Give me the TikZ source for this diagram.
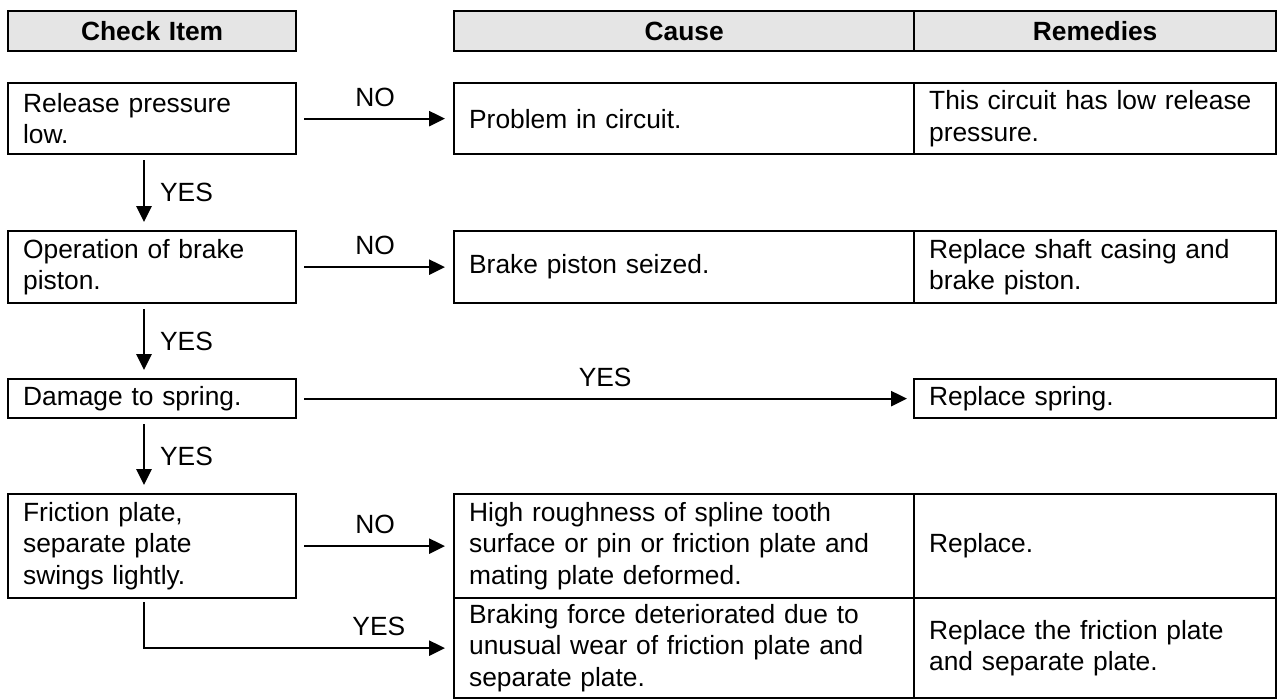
\documentclass[tikz,border=0pt]{standalone}
\usepackage{fontspec}
\setmainfont{Liberation Sans}
\usetikzlibrary{arrows.meta,positioning}
\tikzset{
  fej/.style={draw,fill=gray!20,line width=1.3pt,inner xsep=0.3cm,inner ysep=0pt,
    minimum height=0.8cm,align=center,anchor=north west,font=\fontsize{15}{18}\selectfont\bfseries},
  doboz/.style={draw,line width=1.3pt,inner xsep=0.3cm,inner ysep=2pt,align=left,anchor=north west},
  elso/.style={text width=5.16cm},
  ok/.style={text width=8.60cm},
  megold/.style={text width=6.64cm},
  nyil/.style={line width=1.3pt,-{Triangle[length=9pt,width=8.5pt]},shorten <=0.14cm,shorten >=0.16cm},
  felirat/.style={inner sep=0pt},
}

\begin{document}
\begin{tikzpicture}[font=\fontsize{15}{18}\selectfont]
  \useasboundingbox (0,0) rectangle (25.56,-13.96);
  % column heads
  \node[fej,elso] (hA) at (0.14,-0.2) {Check Item};
  \node[fej,ok] (hB) at (9.06,-0.2) {Cause};
  \node[fej,megold] (hC) at (18.26,-0.2) {Remedies};
  \coordinate (gerinc) at (2.88,0);
  % checks, causes and remedies
  \node[doboz,elso,minimum height=1.42cm] (r1) at (0.14,-1.64) {Release pressure\\ low.};
  \node[doboz,ok,minimum height=1.42cm] (c1) at (9.06,-1.64) {Problem in circuit.};
  \node[doboz,megold,minimum height=1.42cm] (m1) at (18.26,-1.64) {This circuit has low release\\ pressure.};
  \node[doboz,elso,minimum height=1.44cm] (r2) at (0.14,-4.6) {Operation of brake\\ piston.};
  \node[doboz,ok,minimum height=1.44cm] (c2) at (9.06,-4.6) {Brake piston seized.};
  \node[doboz,megold,minimum height=1.44cm] (m2) at (18.26,-4.6) {Replace shaft casing and\\ brake piston.};
  \node[doboz,elso,minimum height=0.78cm] (r3) at (0.14,-7.56) {Damage to spring.};
  \node[doboz,megold,minimum height=0.78cm] (m3) at (18.26,-7.56) {Replace spring.};
  \node[doboz,elso,minimum height=2.08cm] (r4) at (0.14,-9.86) {Friction plate,\\ separate plate\\ swings lightly.};
  \node[doboz,ok,minimum height=2.08cm] (c4) at (9.06,-9.86) {High roughness of spline tooth\\ surface or pin or friction plate and\\ mating plate deformed.};
  \node[doboz,megold,minimum height=2.08cm] (m4) at (18.26,-9.86) {Replace.};
  \node[doboz,ok,minimum height=2.0cm] (c5) at (9.06,-11.94) {Braking force deteriorated due to\\ unusual wear of friction plate and\\ separate plate.};
  \node[doboz,megold,minimum height=2.0cm] (m5) at (18.26,-11.94) {Replace the friction plate\\ and separate plate.};
  % NO branches
  \draw[nyil] (r1.east) -- node[felirat,above=0.22cm] {NO} (c1.west);
  \draw[nyil] (r2.east) -- node[felirat,above=0.22cm] {NO} (c2.west);
  \draw[nyil,shorten >=0.12cm] (r3.east) -- node[felirat,above=0.22cm] {YES} (m3.west);
  \draw[nyil] (r4.east) -- node[felirat,above=0.22cm] {NO} (c4.west);
  % YES down the left
  \draw[nyil,shorten <=0.1cm] (r1.south -| gerinc) -- node[felirat,right=0.3cm] {YES} (r2.north -| gerinc);
  \draw[nyil,shorten <=0.1cm] (r2.south -| gerinc) -- node[felirat,right=0.3cm] {YES} (r3.north -| gerinc);
  \draw[nyil,shorten <=0.1cm] (r3.south -| gerinc) -- node[felirat,right=0.3cm] {YES} (r4.north -| gerinc);
  \draw[nyil,shorten <=0.06cm] (r4.south -| gerinc) |- node[felirat,pos=0.88,above=0.22cm] {YES} (c5.west);
\end{tikzpicture}
\end{document}
